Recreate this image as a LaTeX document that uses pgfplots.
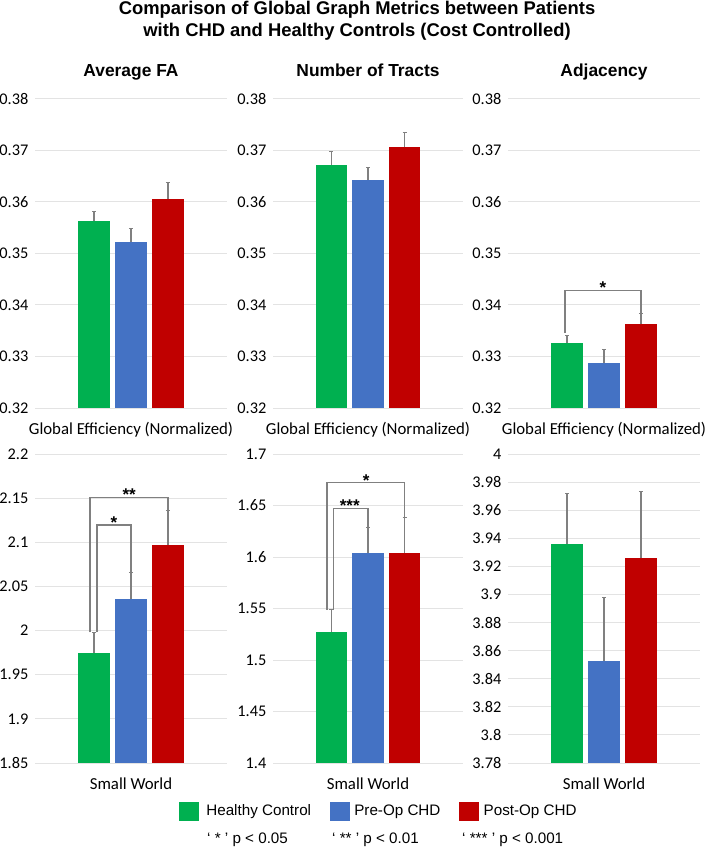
\documentclass[border=0pt]{standalone}
\usepackage{pgfplots}
\pgfplotsset{compat=1.18}
\usepackage{fontspec}
\setmainfont{Liberation Sans}
\newfontfamily\carlito{Carlito}
\definecolor{hcgreen}{HTML}{00B050}
\definecolor{preblue}{HTML}{4472C4}
\definecolor{postred}{HTML}{C00000}
\definecolor{gridc}{HTML}{E3E3E3}
\definecolor{errc}{HTML}{808080}
\tikzset{starnode/.style={font=\bfseries\fontsize{17}{17}\selectfont, anchor=base, inner sep=0pt, yshift=-3.5pt}}
\pgfplotsset{
 panel/.style={
  scale only axis, width=192pt, height=309.4pt,
  xmin=-2.6, xmax=2.6,
  axis line style={draw=none},
  major tick length=0pt,
  xtick=\empty,
  ymajorgrids, grid style={gridc, line width=0.9pt},
  yticklabel style={font=\carlito\fontsize{16.3}{16}\selectfont, anchor=east, inner sep=0pt, xshift=-6.5pt},
  title style={font=\bfseries\fontsize{17.4}{18}\selectfont, at={(axis description cs:0.5,1)}, anchor=base, yshift=16pt},
  xlabel style={font=\carlito\fontsize{16.8}{17}\selectfont, at={(axis description cs:0.5,0)}, anchor=base, yshift=-26.5pt},
 },
 bars/.style={ybar, bar width=0.87, bar shift=0pt, fill=#1, draw=none,
  error bars/.cd, y dir=plus, y explicit,
  error bar style={errc, line width=1.3pt},
  error mark options={errc, rotate=90, mark size=2pt, line width=1pt}},
 bracket/.style={errc, line width=1.5pt, sharp plot, no marks, forget plot},
}
\begin{document}
\begin{tikzpicture}
\useasboundingbox (0pt,0pt) rectangle (709pt,-848pt);
\node[font=\bfseries\fontsize{18.4}{22}\selectfont, anchor=base] at (357pt,-15pt) {Comparison of Global Graph Metrics between Patients};
\node[font=\bfseries\fontsize{18.4}{22}\selectfont, anchor=base] at (357pt,-36.5pt) {with CHD and Healthy Controls (Cost Controlled)};

% Panel 1
\begin{axis}[panel, at={(35pt,-408pt)}, anchor=south west, width=192pt,
  ymin=0.32, ymax=0.38, ytick={0.32,0.33,0.34,0.35,0.36,0.37,0.38},
  yticklabels={0.32,0.33,0.34,0.35,0.36,0.37,0.38},
  title={Average FA}, xlabel={Global Efficiency (Normalized)}]
\addplot[bars=hcgreen] coordinates {(-1,0.3562) +- (0,0.0020)};
\addplot[bars=preblue] coordinates {(0,0.3521) +- (0,0.0027)};
\addplot[bars=postred] coordinates {(1,0.3606) +- (0,0.0031)};
\end{axis}

% Panel 2
\begin{axis}[panel, at={(273pt,-408pt)}, anchor=south west, width=190pt,
  ymin=0.32, ymax=0.38, ytick={0.32,0.33,0.34,0.35,0.36,0.37,0.38},
  yticklabels={0.32,0.33,0.34,0.35,0.36,0.37,0.38},
  title={Number of Tracts}, xlabel={Global Efficiency (Normalized)}]
\addplot[bars=hcgreen] coordinates {(-1,0.3672) +- (0,0.0026)};
\addplot[bars=preblue] coordinates {(0,0.3643) +- (0,0.0023)};
\addplot[bars=postred] coordinates {(1,0.3706) +- (0,0.0028)};
\end{axis}

% Panel 3
\begin{axis}[panel, at={(508pt,-408pt)}, anchor=south west, width=192pt,
  ymin=0.32, ymax=0.38, ytick={0.32,0.33,0.34,0.35,0.36,0.37,0.38},
  yticklabels={0.32,0.33,0.34,0.35,0.36,0.37,0.38},
  title={Adjacency}, xlabel={Global Efficiency (Normalized)}]
\addplot[bars=hcgreen] coordinates {(-1,0.3326) +- (0,0.0014)};
\addplot[bars=preblue] coordinates {(0,0.3287) +- (0,0.0026)};
\addplot[bars=postred] coordinates {(1,0.3362) +- (0,0.0022)};
\addplot[bracket] coordinates {(-1.06,0.3345) (-1.06,0.3428) (1.0,0.3428) (1.0,0.3385)};
\node[starnode] at (axis cs:-0.03,0.3428) {*};
\end{axis}

% Panel 4
\begin{axis}[panel, at={(35pt,-763pt)}, anchor=south west, width=192pt, height=309pt,
  ymin=1.85, ymax=2.2, ytick={1.85,1.9,1.95,2,2.05,2.1,2.15,2.2},
  yticklabels={1.85,1.9,1.95,2,2.05,2.1,2.15,2.2},
  xlabel={Small World}]
\addplot[bars=hcgreen] coordinates {(-1,1.9745) +- (0,0.0235)};
\addplot[bars=preblue] coordinates {(0,2.0356) +- (0,0.0305)};
\addplot[bars=postred] coordinates {(1,2.0971) +- (0,0.0388)};
\addplot[bracket] coordinates {(-1.11,1.998) (-1.11,2.151) (1.0,2.151) (1.0,2.1359)};
\addplot[bracket] coordinates {(-0.92,1.998) (-0.92,2.1197) (0.0,2.1197) (0.0,2.0661)};
\node[starnode] at (axis cs:-0.05,2.151) {**};
\node[starnode] at (axis cs:-0.46,2.1197) {*};
\end{axis}

% Panel 5
\begin{axis}[panel, at={(273pt,-763pt)}, anchor=south west, width=190pt, height=309pt,
  ymin=1.4, ymax=1.7, ytick={1.4,1.45,1.5,1.55,1.6,1.65,1.7},
  yticklabels={1.4,1.45,1.5,1.55,1.6,1.65,1.7},
  xlabel={Small World},
  legend style={at={(axis description cs:-0.495,-0.1553)}, anchor=west, draw=none, fill=none, inner sep=0pt,
    font=\fontsize{15.2}{16}\selectfont, /tikz/every even column/.append style={column sep=17pt}},
  legend columns=3, legend cell align=left]
\addplot[forget plot, bars=hcgreen] coordinates {(-1,1.5271) +- (0,0.0216)};
\addplot[forget plot, bars=preblue] coordinates {(0,1.6037) +- (0,0.0252)};
\addplot[forget plot, bars=postred] coordinates {(1,1.6037) +- (0,0.0349)};
\addplot[bracket] coordinates {(-1.12,1.549) (-1.12,1.6722) (1.0,1.6722) (1.0,1.6386)};
\addplot[bracket] coordinates {(-0.95,1.549) (-0.95,1.6473) (0.0,1.6473) (0.0,1.6289)};
\node[starnode] at (axis cs:-0.05,1.6722) {*};
\node[starnode] at (axis cs:-0.5,1.6473) {***};
\addlegendimage{legend image code/.code={\fill[hcgreen] (0pt,-9pt) rectangle (19pt,9pt); \path[draw=none,fill=none] (0pt,0pt) rectangle (25pt,0.1pt);}}
\addlegendentry{Healthy Control}
\addlegendimage{legend image code/.code={\fill[preblue] (0pt,-9pt) rectangle (19pt,9pt); \path[draw=none,fill=none] (0pt,0pt) rectangle (22pt,0.1pt);}}
\addlegendentry{Pre-Op CHD}
\addlegendimage{legend image code/.code={\fill[postred] (0pt,-9pt) rectangle (19pt,9pt); \path[draw=none,fill=none] (0pt,0pt) rectangle (22pt,0.1pt);}}
\addlegendentry{Post-Op CHD}
\end{axis}

% Panel 6
\begin{axis}[panel, at={(508pt,-763pt)}, anchor=south west, width=192pt, height=309pt,
  ymin=3.78, ymax=4, ytick={3.78,3.8,3.82,3.84,3.86,3.88,3.9,3.92,3.94,3.96,3.98,4},
  yticklabels={3.78,3.8,3.82,3.84,3.86,3.88,3.9,3.92,3.94,3.96,3.98,4},
  xlabel={Small World}]
\addplot[bars=hcgreen] coordinates {(-1,3.9358) +- (0,0.0358)};
\addplot[bars=preblue] coordinates {(0,3.8528) +- (0,0.0453)};
\addplot[bars=postred] coordinates {(1,3.9258) +- (0,0.0472)};
\end{axis}

\node[anchor=base west, inner sep=0pt, font=\fontsize{15.2}{16}\selectfont] at (207pt,-843pt) {‘ * ’ p < 0.05};
\node[anchor=base west, inner sep=0pt, font=\fontsize{15.2}{16}\selectfont] at (332pt,-843pt) {‘ ** ’ p < 0.01};
\node[anchor=base west, inner sep=0pt, font=\fontsize{15.2}{16}\selectfont] at (462pt,-843pt) {‘ *** ’ p < 0.001};
\end{tikzpicture}
\end{document}
